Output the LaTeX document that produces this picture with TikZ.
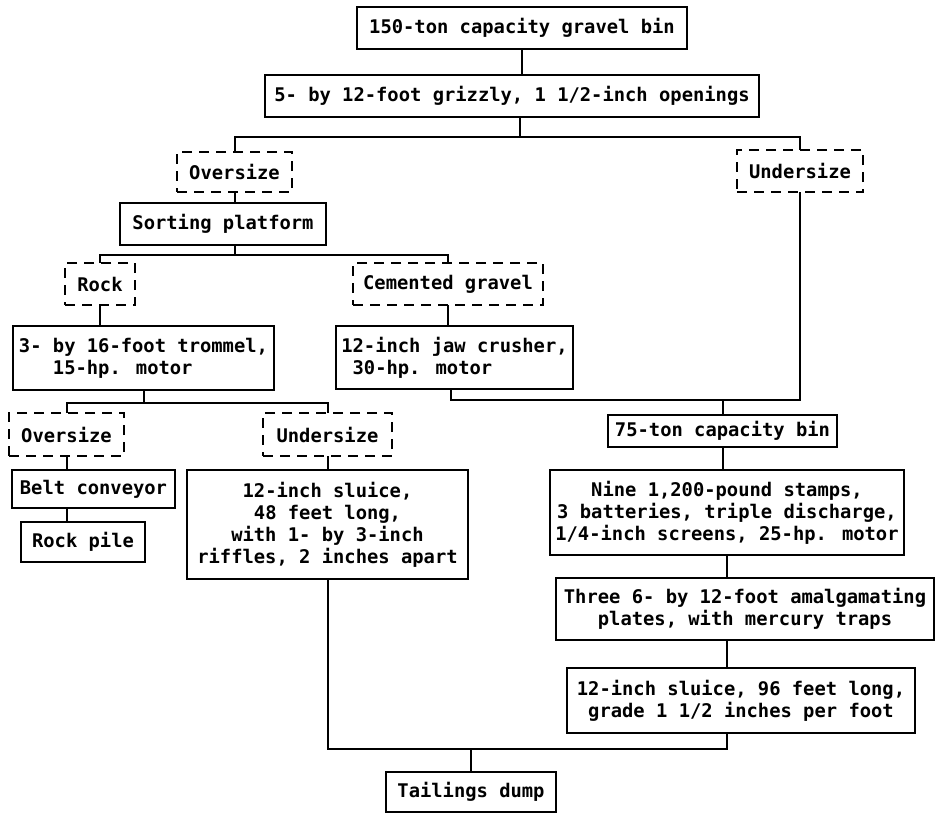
\documentclass[tikz,border=0pt]{standalone}
\usepackage{fontspec}
\usetikzlibrary{positioning}
\newfontfamily\typefont{DejaVu Sans Mono}

\begin{document}
\begin{tikzpicture}[
  node distance=10pt,
  unit/.style={rectangle, draw=black, line width=1pt, align=center,
    font=\typefont\bfseries\fontsize{9.4}{11}\selectfont,
    inner xsep=2.5pt, inner ysep=3pt, outer sep=0pt, minimum height=21pt},
  product/.style={unit, dash pattern=on 5pt off 3.5pt},
  flow/.style={line width=1pt, black}
]
  \useasboundingbox (0,0) rectangle (468pt,-406.5pt);

  \node[unit, minimum width=165pt] (bin) at (261pt,-14pt) {150-ton capacity gravel bin};
  \node[unit, minimum width=247pt, below=13pt of bin, xshift=-5pt] (grizzly) {5- by 12-foot grizzly, 1 1/2-inch openings};

  \node[product, minimum width=57.5pt, minimum height=20pt, below=17.5pt of grizzly, xshift=-138.75pt] (over1) {Oversize};
  \node[product, minimum width=63pt, below=16.5pt of grizzly, xshift=144pt] (under1) {Undersize};

  \node[unit, minimum width=103pt, below=5.5pt of over1, xshift=-5.75pt] (sorting) {Sorting platform};
  \node[product, minimum width=35pt, below=9pt of sorting, xshift=-61.5pt] (rock) {Rock};
  \node[product, minimum width=95pt, below=9pt of sorting, xshift=112.5pt] (cement) {Cemented gravel};

  \node[unit, minimum width=130.5pt, minimum height=32pt, align=left, below=10.5pt of rock, xshift=21.75pt] (trommel) {3- by 16-foot trommel,\\~~~15-hp. motor};
  \node[unit, minimum width=118.5pt, minimum height=31.5pt, align=left, below=10.5pt of cement, xshift=3.25pt] (jaw) {12-inch jaw crusher,\\~30-hp. motor};

  \node[product, minimum width=57.5pt, minimum height=21.5pt, below=11.5pt of trommel, xshift=-38.5pt] (over2) {Oversize};
  \node[product, minimum width=64.5pt, minimum height=21.5pt, below=11.5pt of trommel, xshift=92pt] (under2) {Undersize};
  \node[unit, minimum width=81.5pt, minimum height=19pt, below=7pt of over2, xshift=13.5pt] (belt) {Belt conveyor};
  \node[unit, minimum width=62pt, minimum height=20pt, below=7pt of belt, xshift=-5.25pt] (rockpile) {Rock pile};
  \node[unit, minimum width=140.5pt, minimum height=54.5pt, below=7pt of under2] (sluice48) {12-inch sluice,\\48 feet long,\\with 1- by 3-inch\\riffles, 2 inches apart};

  \node[unit, minimum width=114.5pt, minimum height=16pt, below=13pt of jaw, xshift=134pt] (bin75) {75-ton capacity bin};
  \node[unit, minimum width=175pt, minimum height=42.5pt, below=11.5pt of bin75, xshift=2.25pt] (stamps) {Nine 1,200-pound stamps,\\3 batteries, triple discharge,\\1/4-inch screens, 25-hp. motor};
  \node[unit, minimum width=189pt, minimum height=31pt, below=11.5pt of stamps, xshift=9pt] (plates) {Three 6- by 12-foot amalgamating\\plates, with mercury traps};
  \node[unit, minimum width=174pt, minimum height=32.5pt, below=14pt of plates, xshift=-2pt] (sluice96) {12-inch sluice, 96 feet long,\\grade 1 1/2 inches per foot};

  \node[unit, minimum width=85pt, minimum height=20pt, below=19.5pt of sluice96, xshift=-135pt] (tailings) {Tailings dump};

  \draw[flow] (bin.south) -- (bin.south |- grizzly.north);
  \draw[flow] ([xshift=4pt]grizzly.south) -- ++(0,-10pt) coordinate (screensplit);
  \draw[flow] (over1.north) |- (screensplit) -| (under1.north);

  \draw[flow] (over1.south) -- (over1.south |- sorting.north);
  \draw[flow] (over1.south |- sorting.south) -- ++(0,-5pt) coordinate (sortsplit);
  \draw[flow] (rock.north) |- (sortsplit) -| (cement.north);

  \draw[flow] (rock.south) -- (rock.south |- trommel.north);
  \draw[flow] (cement.south) -- (cement.south |- jaw.north);

  \draw[flow] (trommel.south) -- ++(0,-6.5pt) coordinate (trommelsplit);
  \draw[flow] (over2.north) |- (trommelsplit) -| (under2.north);
  \draw[flow] (over2.south) -- (over2.south |- belt.north);
  \draw[flow] (over2.south |- belt.south) -- (over2.south |- rockpile.north);
  \draw[flow] (under2.south) -- (under2.south |- sluice48.north);

  \draw[flow] (bin75.north) -- ++(0,7.5pt) coordinate (merge);
  \draw[flow] ([xshift=-2pt]jaw.south) |- (merge) -| (under1.south);

  \draw[flow] (bin75.south) -- (bin75.south |- stamps.north);
  \draw[flow] (stamps.south) -- (stamps.south |- plates.north);
  \draw[flow] (stamps.south |- plates.south) -- (stamps.south |- sluice96.north);

  \draw[flow] (tailings.north) -- ++(0,11.5pt) coordinate (outfall);
  \draw[flow] (sluice48.south) |- (outfall) -| (stamps.south |- sluice96.south);

\end{tikzpicture}
\end{document}
